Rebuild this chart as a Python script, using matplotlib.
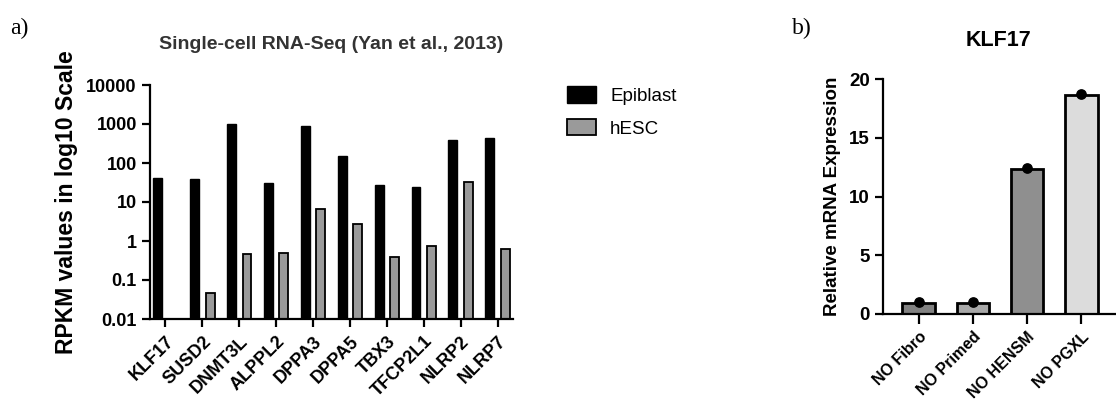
import matplotlib
matplotlib.use("Agg")
import matplotlib.pyplot as plt
import numpy as np

# panel a: single-cell RNA-Seq (RPKM, log scale)
genes = ["KLF17", "SUSD2", "DNMT3L", "ALPPL2", "DPPA3", "DPPA5",
         "TBX3", "TFCP2L1", "NLRP2", "NLRP7"]
epiblast = [42, 39, 980, 30, 890, 150, 27.5, 24.5, 385, 440]
hesc = [np.nan, 0.047, 0.47, 0.49, 6.5, 2.8, 0.39, 0.74, 33, 0.62]

# panel b: KLF17 qPCR
conditions = ["NO Fibro", "NO Primed", "NO HENSM", "NO PGXL"]
klf17 = [0.9, 0.95, 12.3, 18.6]
klf17_points = [0.98, 1.02, 12.4, 18.7]
bar_colors = ["#828282", "#a8a8a8", "#8f8f8f", "#dcdcdc"]

plt.rcParams['font.family'] = ['Liberation Sans', 'DejaVu Sans']
plt.rcParams['axes.linewidth'] = 1.6

fig = plt.figure(figsize=(11.16, 4), dpi=100)

# ---- panel a ----
ax1 = fig.add_axes([0.1344, 0.2025, 0.3253, 0.585])
x = np.arange(len(genes))
w = 0.24
ax1.bar(x - 0.21, epiblast, w, color="black", edgecolor="black",
        linewidth=1.0, label="Epiblast")
ax1.bar(x + 0.21, hesc, w, color="#9a9a9a", edgecolor="black",
        linewidth=1.3, label="hESC")
ax1.set_yscale("log")
ax1.set_ylim(0.01, 10000)
ax1.set_xlim(-0.42, 9.42)
ax1.set_yticks([0.01, 0.1, 1, 10, 100, 1000, 10000])
ax1.set_yticklabels(["0.01", "0.1", "1", "10", "100", "1000", "10000"])
ax1.minorticks_off()
ax1.set_xticks(x)
ax1.set_xticklabels(genes, rotation=45, ha="right", rotation_mode="anchor")
for s in ["top", "right"]:
    ax1.spines[s].set_visible(False)
ax1.tick_params(axis="both", width=1.6, length=6, labelsize=13)
ax1.tick_params(axis="x", pad=4)
for lab in ax1.get_xticklabels() + ax1.get_yticklabels():
    lab.set_fontweight("bold")
ax1.set_ylabel("RPKM values in log10 Scale", fontsize=16.5,
               fontweight="bold", labelpad=6)
ax1.set_title("Single-cell RNA-Seq (Yan et al., 2013)", fontsize=14,
              fontweight="bold", color="#333333", pad=26)

leg = fig.legend(*ax1.get_legend_handles_labels(), loc="upper left",
                 bbox_to_anchor=(0.493, 0.826), frameon=False, fontsize=13.5,
                 handlelength=1.55, handleheight=0.95, labelspacing=0.75,
                 handletextpad=0.75)

# ---- panel b ----
ax2 = fig.add_axes([0.7912, 0.215, 0.2079, 0.5875])
xb = np.arange(len(conditions))
ax2.bar(xb, klf17, 0.6, color=bar_colors, edgecolor="black", linewidth=2.0)
ax2.scatter(xb, klf17_points, s=45, color="black", zorder=3, clip_on=False)
ax2.set_xlim(-0.66, 3.62)
ax2.set_ylim(0, 20)
ax2.set_yticks([0, 5, 10, 15, 20])
ax2.set_xticks(xb)
ax2.set_xticklabels(conditions, rotation=45, ha="right",
                    rotation_mode="anchor")
for s in ["top", "right"]:
    ax2.spines[s].set_visible(False)
ax2.tick_params(axis="both", width=1.6, length=6)
ax2.tick_params(axis="y", labelsize=13.5)
ax2.tick_params(axis="x", labelsize=11.5, length=7, pad=4)
for lab in ax2.get_xticklabels() + ax2.get_yticklabels():
    lab.set_fontweight("bold")
ax2.set_ylabel("Relative mRNA Expression", fontsize=13.5,
               fontweight="bold", labelpad=6)
ax2.set_title("KLF17", fontsize=15.5, fontweight="bold", pad=24)

# panel letters
fig.text(0.009, 0.955, "a)", fontsize=17, family="Liberation Serif",
         va="top")
fig.text(0.71, 0.955, "b)", fontsize=17, family="Liberation Serif",
         va="top")

fig.savefig("out.png", dpi=100)
